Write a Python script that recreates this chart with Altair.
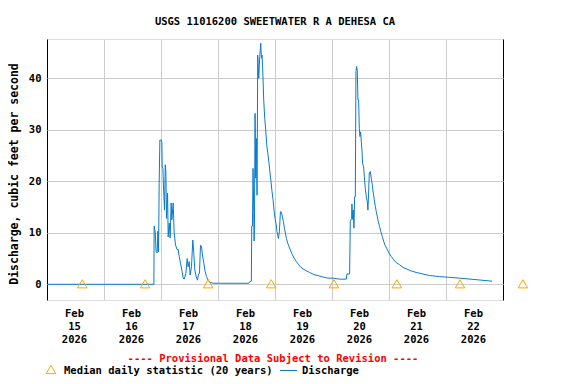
import json
import altair as alt
import pandas as pd

# ---------------- data (days since Feb 15 2026 00:00, discharge in ft3/s) ----------------
days = [0.0, 1.875, 1.880, 1.898, 1.915, 1.933, 1.945, 1.957, 1.968, 1.980, 2.009, 2.015,
        2.021, 2.033, 2.044, 2.062, 2.074, 2.085, 2.097, 2.115, 2.126, 2.144, 2.161, 2.178,
        2.190, 2.214, 2.231, 2.255, 2.284, 2.301, 2.319, 2.342, 2.371, 2.389, 2.406, 2.436,
        2.459, 2.476, 2.494, 2.511, 2.535, 2.558, 2.576, 2.593, 2.617, 2.640, 2.658, 2.675,
        2.693, 2.711, 2.728, 2.751, 2.774, 2.798, 2.827, 2.856, 2.914, 3.031,
        3.540, 3.557, 3.585, 3.592, 3.604, 3.615, 3.627, 3.633, 3.639, 3.650, 3.662, 3.674,
        3.685, 3.697, 3.715, 3.732, 3.750, 3.762, 3.773, 3.785, 3.802, 3.820, 3.837, 3.855,
        3.878, 3.895, 3.913, 3.930, 3.948, 3.966, 3.983, 4.001, 4.018, 4.036, 4.060, 4.077,
        4.095, 4.112, 4.130, 4.147, 4.165, 4.183, 4.200, 4.223, 4.246, 4.270, 4.293, 4.316,
        4.346, 4.375, 4.410, 4.445, 4.491, 4.550, 4.608, 4.678, 4.754, 4.842, 4.929, 5.017,
        5.134, 5.251,
        5.262, 5.309, 5.321, 5.344, 5.350, 5.362, 5.374, 5.385, 5.397, 5.409, 5.420, 5.432,
        5.444, 5.455, 5.467, 5.479, 5.490, 5.502, 5.514, 5.525, 5.537, 5.555, 5.567, 5.584,
        5.602, 5.619, 5.630, 5.642, 5.654, 5.672, 5.689, 5.707, 5.724, 5.742, 5.760, 5.777,
        5.795, 5.812, 5.835, 5.858, 5.882, 5.905, 5.934, 5.963, 5.998, 6.039, 6.080, 6.127,
        6.185, 6.244, 6.302, 6.389, 6.477, 6.594, 6.710, 6.886, 7.061, 7.236, 7.529, 7.810]

discharge = [0.0, 0.0, 11.3, 10.2, 6.3, 6.1, 10.3, 6.3, 19.6, 28.0, 28.0, 27.5,
             22.8, 22.5, 18.9, 14.4, 23.2, 22.0, 12.8, 17.7, 9.2, 11.9, 9.0, 15.8,
             12.5, 15.8, 10.0, 7.6, 6.7, 6.8, 5.4, 4.1, 2.4, 1.2, 1.0, 2.1,
             5.0, 3.4, 4.4, 1.8, 3.4, 8.6, 6.0, 2.8, 1.5, 0.8, 2.0, 2.1,
             7.6, 7.3, 5.7, 4.1, 2.5, 1.5, 0.8, 0.4, 0.2, 0.2,
             0.2, 0.5, 0.6, 11.3, 11.3, 22.5, 14.1, 8.4, 10.5, 33.2, 20.6, 28.3,
             17.3, 44.5, 40.0, 44.2, 46.8, 43.9, 44.5, 41.6, 35.8, 32.2, 30.0, 27.0,
             25.1, 23.5, 21.6, 19.9, 18.0, 16.4, 14.4, 12.8, 11.8, 10.2, 8.9, 10.2,
             14.1, 14.0, 13.1, 12.2, 10.9, 9.9, 8.9, 8.0, 7.3, 6.7, 6.0, 5.5,
             4.9, 4.4, 3.9, 3.4, 3.0, 2.6, 2.3, 1.9, 1.7, 1.4, 1.2, 1.2,
             1.0, 1.0,
             2.0, 2.0, 12.2, 12.8, 15.6, 12.6, 14.4, 10.9, 17.0, 17.0, 41.3, 42.3,
             41.5, 35.8, 35.8, 30.3, 28.7, 29.6, 27.7, 26.1, 23.5, 22.8, 20.9, 18.6,
             17.0, 16.0, 14.4, 17.7, 21.6, 21.9, 20.6, 19.3, 17.7, 16.4, 15.1, 14.1,
             13.1, 12.2, 11.2, 10.2, 9.3, 8.4, 7.5, 6.9, 6.1, 5.4, 4.8, 4.2,
             3.8, 3.3, 3.0, 2.6, 2.3, 2.0, 1.7, 1.5, 1.35, 1.2, 0.9, 0.6]

median_days = [0.619, 1.722, 2.827, 3.934, 5.034, 6.138, 7.246, 8.349]
median_vals = [0.1, 0.1, 0.1, 0.1, 0.1, 0.1, 0.1, 0.1]

month_label = "Feb"
year_label = "2026"
day_labels = ["15", "16", "17", "18", "19", "20", "21", "22"]
y_ticks = [0, 10, 20, 30, 40]

title_text = "USGS 11016200 SWEETWATER R A DEHESA CA"
y_title = "Discharge, cubic feet per second"
provisional = "---- Provisional Data Subject to Revision ----"
legend_median = "Median daily statistic (20 years)"
legend_q = "Discharge"

# ---------------- styling ----------------
W, H = 456, 261
FONT = "DejaVu Sans Mono"
FS = 10.5
BLUE = "#0A7BCB"
ORANGE = "#FFA500"
GRID = "#CCCCCC"

flow = pd.DataFrame({"day": days, "q": discharge})
med = pd.DataFrame({"day": median_days, "q": median_vals})
one = pd.DataFrame({"k": [0]})

label_expr = (
    "datum.value < 8 ? ['" + month_label + "', " + json.dumps(day_labels)
    + "[datum.value], '" + year_label + "'] : ''"
)

x_scale = alt.Scale(domain=[0, 8], nice=False, zero=False)
y_scale = alt.Scale(domain=[-3.05, 47.63], nice=False, zero=False)

x_axis = alt.Axis(
    values=list(range(0, 9)),
    grid=True,
    gridColor={"condition": {"test": "datum.value == 0 || datum.value == 8", "value": "black"},
               "value": GRID},
    ticks=False, tickSize=0, domain=False,
    labelExpr=label_expr, labelOffset=27, labelFlush=False, labelOverlap=False,
    labelAlign="center", labelBaseline="top", labelPadding=8, labelLineHeight=13,
    labelFont=FONT, labelFontSize=FS, labelFontWeight="bold", labelColor="black",
    title=None,
)
y_axis = alt.Axis(
    values=y_ticks, grid=True, gridColor=GRID, ticks=False, tickSize=0, domain=False,
    labelFont=FONT, labelFontSize=FS, labelFontWeight="bold", labelColor="black",
    labelPadding=6,
    title=y_title, titleFont=FONT, titleFontSize=11.5, titleFontWeight="bold",
    titleColor="black", titleAngle=-90, titleX=-33, titleY=H / 2 + 4,
    titleAlign="center", titleBaseline="middle",
)

line = alt.Chart(flow).mark_line(color=BLUE, strokeWidth=1, clip=True).encode(
    x=alt.X("day:Q", scale=x_scale, axis=x_axis),
    y=alt.Y("q:Q", scale=y_scale, axis=y_axis),
)

tri = alt.Chart(med).mark_point(shape="triangle-up", size=90, filled=False,
                                color=ORANGE, strokeWidth=1, opacity=1).encode(
    x=alt.X("day:Q", scale=x_scale),
    y=alt.Y("q:Q", scale=y_scale),
)

txt = dict(font=FONT, fontSize=FS, fontWeight="bold", baseline="middle")
prov = alt.Chart(one).mark_text(text=provisional, color="red", align="center", **txt).encode(
    x=alt.value(226), y=alt.value(320))
leg_tri = alt.Chart(one).mark_point(shape="triangle-up", size=90, filled=False,
                                    color=ORANGE, strokeWidth=1, opacity=1).encode(
    x=alt.value(4), y=alt.value(330.5))
leg_t1 = alt.Chart(one).mark_text(text=legend_median, color="black", align="left", **txt).encode(
    x=alt.value(17), y=alt.value(331.5))
leg_line = alt.Chart(one).mark_rule(color=BLUE, strokeWidth=1).encode(
    x=alt.value(233), x2=alt.value(250), y=alt.value(331.5))
leg_t2 = alt.Chart(one).mark_text(text=legend_q, color="black", align="left", **txt).encode(
    x=alt.value(255), y=alt.value(331.5))

chart = alt.layer(line, tri, prov, leg_tri, leg_t1, leg_line, leg_t2).properties(
    width=W, height=H,
    title=alt.TitleParams(title_text, font=FONT, fontSize=FS, fontWeight="bold",
                          color="black", anchor="middle", frame="group",
                          baseline="alphabetic", offset=4),
    autosize=alt.AutoSizeParams(type="none"),
    padding={"left": 39, "top": 31, "right": 65, "bottom": 76},
).configure_view(stroke="black", strokeWidth=1).configure(background="white")

chart.save("out.html", embed_options={"renderer": "svg", "actions": False})
